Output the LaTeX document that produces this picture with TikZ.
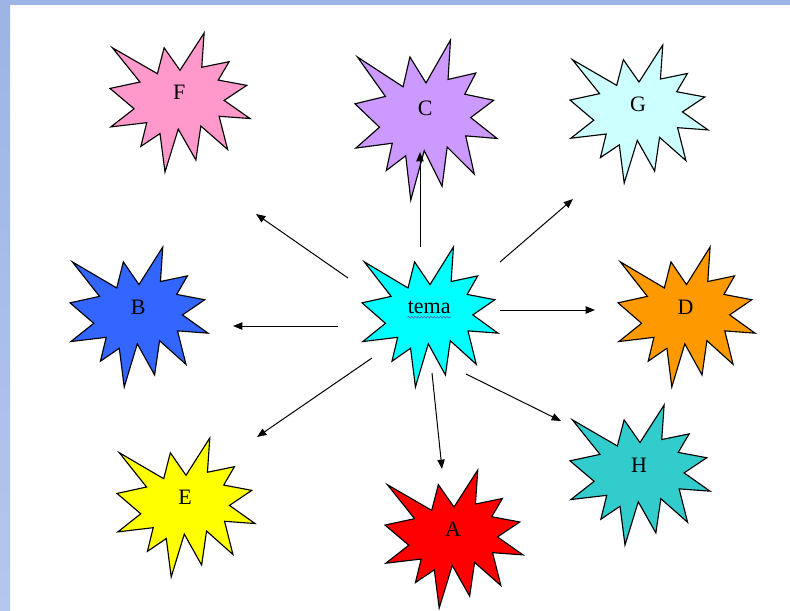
\documentclass[tikz,border=0pt]{standalone}
\usepackage{fontspec}
\setmainfont{Liberation Serif}
\usetikzlibrary{arrows.meta,decorations.pathmorphing}

\definecolor{frametop}{HTML}{9DB4E4}
\definecolor{framebot}{HTML}{B4C7EC}
\definecolor{burstF}{HTML}{FF99CC}
\definecolor{burstC}{HTML}{CC99FF}
\definecolor{burstG}{HTML}{CCFFFF}
\definecolor{burstB}{HTML}{3366FF}
\definecolor{burstT}{HTML}{00FFFF}
\definecolor{burstD}{HTML}{FF9900}
\definecolor{burstE}{HTML}{FFFF00}
\definecolor{burstA}{HTML}{FF0000}
\definecolor{burstH}{HTML}{33CCCC}
\definecolor{squigblue}{HTML}{4A6FB0}

% outline of one burst, in a 216 x 216 box
\newcommand{\burstpath}{(108,58) -- (145.22,0) -- (141.55,53.25) -- (183.80,44.57)
  -- (167.02,73.15) -- (210.97,81.37) -- (176.07,104.75) -- (216,132.90)
  -- (168.37,129.42) -- (181.45,180.95) -- (140.20,144.57) -- (132.47,197.37)
  -- (105.32,149.35) -- (84.85,216) -- (77.15,156.27) -- (47.62,176.17)
  -- (56.67,139.37) -- (1.35,145.87) -- (37.22,117.75) -- (0,86.15)
  -- (46.27,76.17) -- (3.70,22.95) -- (73.12,63.20) -- (83.52,22.95) -- cycle}

% #1 name, #2 left, #3 top, #4 width, #5 height, #6 fill, #7 text
\newcommand{\burst}[7]{%
  \begin{scope}[shift={(#2,#3)}, xscale=#4/216, yscale=#5/216]
    \draw[burst, fill=#6] \burstpath;
    \node[burstlabel] (#1) at (106.7,92.9) {#7};
  \end{scope}}

\begin{document}
\begin{tikzpicture}[
    x=0.75pt, y=-0.75pt,
    burst/.style={draw=black, line width=0.85pt, line join=miter},
    burstlabel/.style={font=\fontsize{16.5}{19}\selectfont, inner sep=0pt},
    link/.style={-{Triangle[length=7pt, width=5.5pt]}, line width=0.75pt},
    squiggle/.style={draw=squigblue, line width=0.5pt, decorate,
      decoration={snake, amplitude=0.6pt, segment length=2.4pt}}
]
\useasboundingbox (0,0) rectangle (790,611);

% Frame
\fill[white] (0,0) rectangle (790,611);
\shade[top color=frametop, bottom color=framebot] (0,0) rectangle (10,611);
\fill[frametop] (0,0) rectangle (790,5);

% Bursts
\burst{F}{110}{33}{140}{139}{burstF}{F}
\burst{C}{355}{40}{142}{160}{burstC}{C}
\burst{G}{570}{45}{138}{138}{burstG}{G}
\burst{B}{70}{247}{138}{140}{burstB}{B}
\burst{tema}{362}{247}{136}{140}{burstT}{tema}
\burst{D}{618}{247}{137}{140}{burstD}{D}
\burst{E}{117}{438}{138}{139}{burstE}{E}
\burst{A}{385}{470}{138}{138}{burstA}{A}
\burst{H}{570}{405}{140}{140}{burstH}{H}

\draw[squiggle] ([yshift=-2.6pt]tema.south west) -- ([yshift=-2.6pt]tema.south east);

% Arrow ends
\coordinate (tC) at (420,247);  \coordinate (eC) at (420,152);
\coordinate (tF) at (348,278);  \coordinate (eF) at (256,214);
\coordinate (tG) at (500,262);  \coordinate (eG) at (573,199);
\coordinate (tB) at (338,326);  \coordinate (eB) at (233,326);
\coordinate (tD) at (500,310);  \coordinate (eD) at (595,310);
\coordinate (tE) at (372,358);  \coordinate (eE) at (257,437);
\coordinate (tA) at (432,373);  \coordinate (eA) at (442,469);
\coordinate (tH) at (466,374);  \coordinate (eH) at (561,421);

% Arrows
\draw[link] (tC) -- (eC);
\draw[link] (tF) -- (eF);
\draw[link] (tG) -- (eG);
\draw[link] (tB) -- (eB);
\draw[link] (tD) -- (eD);
\draw[link] (tE) -- (eE);
\draw[link] (tA) -- (eA);
\draw[link] (tH) -- (eH);
\end{tikzpicture}
\end{document}
